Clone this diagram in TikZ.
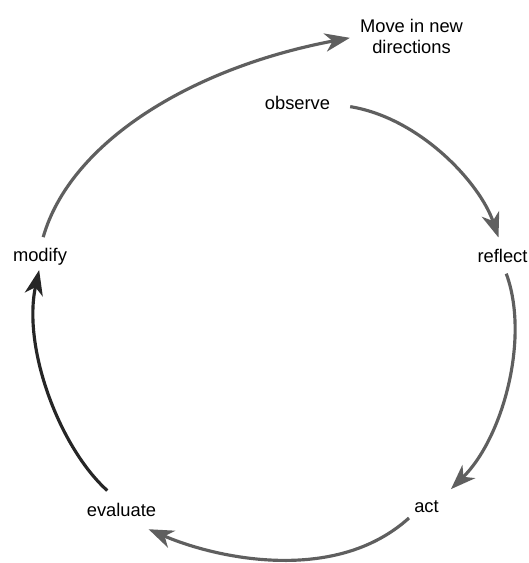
\documentclass[tikz,border=0pt]{standalone}
\usepackage{fontspec}
\setmainfont{Liberation Sans}
\usetikzlibrary{arrows.meta}
\definecolor{cyclegray}{RGB}{95,95,95}

\begin{document}
\begin{tikzpicture}[x=0.6pt, y=0.6pt, font=\fontsize{11}{12.6}\selectfont,
    lbl/.style={inner sep=0pt},
    cyc/.style={-{Stealth[length=15pt, width=11pt, inset=4.5pt]}, line width=1.9pt, draw=cyclegray}]
  \useasboundingbox (0,0) rectangle (528,563);
  \node[lbl, align=center] (move) at (411.5,527) {Move in new\\directions};
  \node[lbl, anchor=base] (observe) at (297.5,453) {observe};
  \node[lbl, anchor=base] (reflect) at (502.5,300) {reflect};
  \node[lbl, anchor=base] (act) at (426.5,50) {act};
  \node[lbl, anchor=base] (evaluate) at (121.5,46) {evaluate};
  \node[lbl, anchor=base] (modify) at (40,301) {modify};
  \draw[cyc, shorten <=12pt, shorten >=7.5pt] (observe.east) .. controls (420,445) and (480,380) .. (reflect.north);
  \draw[cyc, shorten <=6.5pt, shorten >=10pt] (reflect.south) .. controls (530,225) and (503,125) .. (act.north east);
  \draw[cyc, shorten <=4pt, shorten >=17.7pt] (act.south west) .. controls (335,-22) and (215,5) .. (evaluate.south);
  \draw[cyc, draw=black!85, shorten <=11.5pt, shorten >=2.4pt] (evaluate.north) .. controls (60,115) and (22,215) .. (modify.south);
  \draw[cyc, shorten <=7pt, shorten >=6pt] (modify.north) .. controls (70,420) and (190,495) .. (move.west);
\end{tikzpicture}
\end{document}
